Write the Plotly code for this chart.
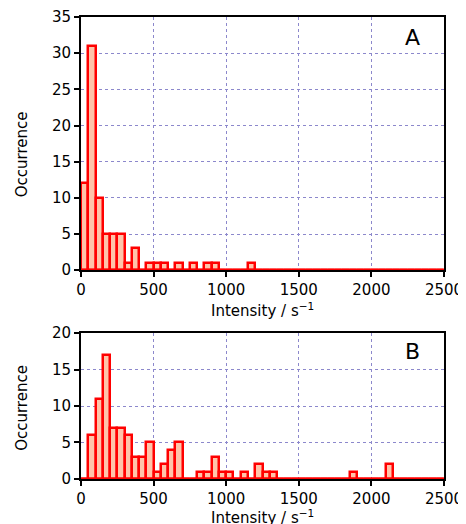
import numpy as np
import plotly.graph_objects as go

bin_width = 50
n_bins = 50  # 0 .. 2500
counts_A = [12, 31, 10, 5, 5, 5, 1, 3, 0, 1, 1, 1, 0, 1, 0, 1, 0, 1, 1, 0,
            0, 0, 0, 1, 0, 0, 0, 0, 0, 0, 0, 0, 0, 0, 0, 0, 0, 0, 0, 0,
            0, 0, 0, 0, 0, 0, 0, 0, 0, 0]
counts_B = [0, 6, 11, 17, 7, 7, 6, 3, 3, 5, 1, 2, 4, 5, 0, 0, 1, 1, 3, 1,
            1, 0, 1, 0, 2, 1, 1, 0, 0, 0, 0, 0, 0, 0, 0, 0, 0, 1, 0, 0,
            0, 0, 2, 0, 0, 0, 0, 0, 0, 0]
panel_labels = ["A", "B"]
x_ticks = [0, 500, 1000, 1500, 2000, 2500]
x_title = "Intensity / s<sup>−1</sup>"
y_title = "Occurrence"

edges = np.arange(n_bins + 1) * bin_width
centers = (edges[:-1] + edges[1:]) / 2

FONT = "DejaVu Sans, sans-serif"
fill = "#ffc4aa"
red = "#ff0000"
grid = "#8c88cc"

fig = go.Figure()
for counts, xa, ya in [(counts_A, "x", "y"), (counts_B, "x2", "y2")]:
    fig.add_trace(go.Scatter(x=[edges[0], edges[-1]], y=[0, 0], mode="lines",
                             line=dict(color=red, width=3), xaxis=xa, yaxis=ya,
                             showlegend=False, hoverinfo="skip", cliponaxis=False))
    fig.add_trace(go.Bar(x=centers, y=counts, width=bin_width, xaxis=xa, yaxis=ya,
                         marker=dict(color=fill, line=dict(color=red, width=2.5)),
                         showlegend=False))

common_x = dict(range=[0, 2500], tickvals=x_ticks, showline=True, linecolor="black",
                linewidth=2, mirror=True, ticks="outside", ticklen=5, tickwidth=2,
                tickcolor="black", showgrid=True, gridcolor=grid, griddash="3px,3px",
                gridwidth=1, zeroline=False, tickfont=dict(size=15, color="black"),
                automargin=False)
common_y = dict(showline=True, linecolor="black", linewidth=2, mirror=True,
                ticks="outside", ticklen=5, tickwidth=2, tickcolor="black",
                showgrid=True, gridcolor=grid, griddash="3px,3px", gridwidth=1,
                zeroline=False, tickfont=dict(size=15, color="black"), automargin=False)

title_font = dict(size=15, color="black", family=FONT)
fig.update_layout(
    width=458, height=516,
    margin=dict(l=73, r=22, t=9, b=45, autoexpand=False),
    paper_bgcolor="white", plot_bgcolor="white",
    font=dict(family=FONT, color="black"),
    bargap=0,
    xaxis=dict(common_x, domain=[0, 1], anchor="y"),
    yaxis=dict(common_y, domain=[0.452, 1], range=[0, 35], tickvals=list(range(0, 36, 5)), anchor="x"),
    xaxis2=dict(common_x, domain=[0, 1], anchor="y2"),
    yaxis2=dict(common_y, domain=[0, 0.316], range=[0, 20], tickvals=list(range(0, 21, 5)), anchor="x2"),
    annotations=[
        dict(text=panel_labels[0], xref="x domain", yref="y domain", x=0.912, y=0.921,
             xanchor="center", yanchor="middle",
             showarrow=False, font=dict(size=22, color="black")),
        dict(text=panel_labels[1], xref="x2 domain", yref="y2 domain", x=0.912, y=0.87,
             xanchor="center", yanchor="middle",
             showarrow=False, font=dict(size=22, color="black")),
        dict(text=x_title, xref="paper", yref="paper", x=0.5, y=0.366, xanchor="center",
             yanchor="middle", showarrow=False, font=title_font),
        dict(text=x_title, xref="paper", yref="paper", x=0.5, y=-0.082, xanchor="center",
             yanchor="middle", showarrow=False, font=title_font),
        dict(text=y_title, xref="paper", yref="paper", x=(22 - 81) / 363, y=0.703,
             xanchor="center", yanchor="middle", textangle=-90, showarrow=False, font=title_font),
        dict(text=y_title, xref="paper", yref="paper", x=(22 - 81) / 363, y=0.154,
             xanchor="center", yanchor="middle", textangle=-90, showarrow=False, font=title_font),
    ],
)

fig.write_html("out.html")
